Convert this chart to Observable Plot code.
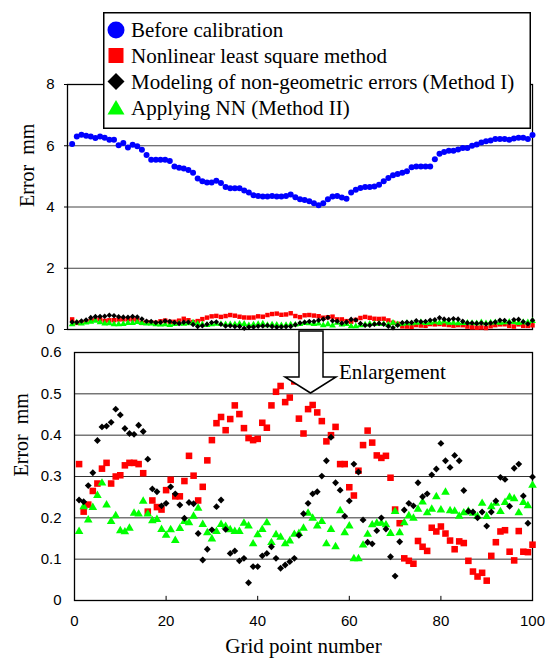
<!DOCTYPE html>
<html><head><meta charset="utf-8">
<script src="https://cdn.jsdelivr.net/npm/d3@7"></script>
<script src="https://cdn.jsdelivr.net/npm/@observablehq/plot@0.6"></script>
<style>
body{margin:0;background:#fff;}
#wrap{position:relative;width:545px;height:658px;overflow:hidden;background:#fff;}
#topChart,#bottomChart,#overlay,#legend{position:absolute;left:0;}
#topChart{top:0;}
#bottomChart{top:335px;}
#overlay{top:0;pointer-events:none;}
#legend{left:103px;top:12px;}
svg{overflow:visible;}
</style></head>
<body><div id="wrap"><div id="topChart"></div><div id="bottomChart"></div><svg id="overlay" width="545" height="658"></svg><svg id="legend" width="428" height="117"></svg></div>
<script>
const gridPoints = d3.range(1, 101);
const seriesNames = ["Before calibration", "Nonlinear least square method", "Modeling of non-geometric errors (Method I)", "Applying NN (Method II)"];
const beforeCal = [6.06,6.30,6.36,6.33,6.30,6.25,6.30,6.26,6.20,6.20,
6.02,6.09,5.94,6.03,5.98,5.87,5.70,5.54,5.54,5.54,
5.54,5.50,5.32,5.28,5.26,5.21,5.12,4.93,4.84,4.80,
4.80,4.86,4.78,4.65,4.61,4.61,4.61,4.54,4.47,4.38,
4.36,4.34,4.34,4.36,4.34,4.34,4.36,4.41,4.32,4.25,
4.23,4.19,4.12,4.06,4.12,4.25,4.34,4.36,4.31,4.27,
4.47,4.56,4.62,4.65,4.65,4.67,4.73,4.84,4.95,5.04,
5.08,5.12,5.17,5.30,5.32,5.32,5.32,5.32,5.56,5.74,
5.80,5.84,5.84,5.88,5.93,5.93,6.00,6.04,6.11,6.15,
6.17,6.22,6.22,6.22,6.20,6.24,6.26,6.26,6.22,6.35];
const nonlinearLS = [0.330,0.215,0.232,0.265,0.283,0.319,0.333,0.283,0.300,0.303,
0.327,0.333,0.333,0.330,0.308,0.215,0.242,0.226,0.220,0.267,
0.292,0.252,0.252,0.289,0.350,0.302,0.242,0.275,0.339,0.388,
0.429,0.444,0.412,0.439,0.472,0.451,0.417,0.393,0.388,0.391,
0.430,0.418,0.472,0.505,0.519,0.480,0.491,0.530,0.440,0.404,
0.463,0.473,0.455,0.434,0.385,0.400,0.420,0.330,0.330,0.274,
0.254,0.314,0.376,0.411,0.382,0.351,0.345,0.350,0.297,0.220,
0.187,0.102,0.096,0.089,0.144,0.130,0.120,0.176,0.167,0.179,
0.162,0.145,0.124,0.143,0.139,0.096,0.070,0.058,0.067,0.048,
0.108,0.141,0.167,0.170,0.118,0.097,0.168,0.118,0.117,0.135];
const methodI = [0.243,0.239,0.278,0.309,0.387,0.420,0.422,0.431,0.463,0.449,
0.416,0.404,0.402,0.424,0.409,0.342,0.270,0.263,0.229,0.235,
0.275,0.258,0.231,0.199,0.237,0.234,0.162,0.098,0.124,0.171,
0.227,0.243,0.172,0.114,0.120,0.096,0.102,0.043,0.082,0.082,
0.108,0.114,0.130,0.102,0.078,0.086,0.094,0.102,0.158,0.210,
0.235,0.258,0.263,0.301,0.338,0.395,0.285,0.267,0.204,0.241,
0.330,0.311,0.195,0.141,0.137,0.169,0.200,0.173,0.106,0.059,
0.142,0.219,0.235,0.229,0.285,0.251,0.258,0.304,0.318,0.380,
0.338,0.322,0.351,0.338,0.266,0.216,0.214,0.200,0.214,0.180,
0.214,0.241,0.298,0.293,0.228,0.320,0.330,0.253,0.187,0.299];
const methodII = [0.167,0.227,0.195,0.225,0.254,0.284,0.231,0.191,0.205,0.169,
0.166,0.175,0.211,0.209,0.240,0.209,0.193,0.196,0.172,0.158,
0.171,0.145,0.174,0.191,0.188,0.204,0.223,0.184,0.164,0.149,
0.167,0.184,0.179,0.171,0.167,0.167,0.187,0.180,0.137,0.159,
0.172,0.188,0.140,0.159,0.153,0.137,0.144,0.160,0.162,0.175,
0.211,0.199,0.180,0.191,0.137,0.172,0.130,0.217,0.164,0.180,
0.101,0.101,0.134,0.160,0.183,0.187,0.187,0.183,0.162,0.215,
0.164,0.188,0.205,0.199,0.221,0.238,0.212,0.221,0.251,0.219,
0.262,0.217,0.216,0.204,0.212,0.216,0.211,0.203,0.235,0.203,
0.227,0.235,0.215,0.237,0.250,0.246,0.212,0.237,0.229,0.279];
const topTicks = [0, 2, 4, 6, 8];
const topGrid = [2, 4, 6];
const bottomTicks = [0, 0.1, 0.2, 0.3, 0.4, 0.5, 0.6];
const bottomGrid = [0.1, 0.2, 0.3, 0.4, 0.5];
const xTicks = [0, 20, 40, 60, 80, 100];
const colors = ["#0000ff", "#ff0000", "#000000", "#00ff00"];
const yTitle = "Error\u00a0 mm";
const xTitle = "Grid point number";
const noteText = "Enlargement";

const rows = vals => gridPoints.map((g, i) => ({g, v: vals[i]}));
const blueRows = rows(beforeCal), redRows = rows(nonlinearLS), blackRows = rows(methodI), greenRows = rows(methodII);
const sans = "'Liberation Sans', Arial, sans-serif";
const serif = "'Liberation Serif', 'Times New Roman', serif";

const topPlot = Plot.plot({
  width: 545, height: 335,
  marginTop: 84, marginBottom: 6, marginLeft: 67, marginRight: 13,
  x: {domain: [0, 100], axis: null},
  y: {domain: [0, 8], axis: null},
  style: {background: "transparent", fontFamily: sans, fontSize: "15px", color: "#000"},
  marks: [
    Plot.ruleY(topGrid, {stroke: "#444", strokeWidth: 1}),
    Plot.frame({stroke: "#000", strokeWidth: 1.3}),
    Plot.axisY({ticks: topTicks, tickSize: 3, tickPadding: 10, label: null, fontSize: 15}),
    Plot.dot(blueRows, {x: "g", y: "v", r: 3, fill: colors[0], symbol: "circle"}),
    Plot.dot(redRows, {x: "g", y: "v", r: 2.5, fill: colors[1], symbol: "square"}),
    Plot.dot(greenRows, {x: "g", y: "v", r: 2.5, fill: colors[3], symbol: "triangle"}),
    Plot.dot(blackRows, {x: "g", y: "v", r: 2.5, fill: colors[2], symbol: "diamond2"}),
    Plot.text([yTitle], {frameAnchor: "left", rotate: -90, dx: -40, fontSize: 20, fontFamily: serif, fill: "#000"})
  ]
});
document.getElementById("topChart").append(topPlot);

const bottomPlot = Plot.plot({
  width: 545, height: 323,
  marginTop: 17, marginBottom: 58, marginLeft: 74, marginRight: 13,
  x: {domain: [0, 100], axis: null},
  y: {domain: [0, 0.6], axis: null},
  style: {background: "transparent", fontFamily: sans, fontSize: "15px", color: "#000"},
  marks: [
    Plot.ruleY(bottomGrid, {stroke: "#333", strokeWidth: 1}),
    Plot.frame({stroke: "#000", strokeWidth: 1.3}),
    Plot.ruleX(xTicks, {y1: 0, y2: 0.01, stroke: "#000"}),
    Plot.axisY({ticks: bottomTicks, tickSize: 0, tickPadding: 13, label: null, fontSize: 15, tickFormat: d => d === 0 ? "0" : d3.format(".1f")(d)}),
    Plot.axisX({ticks: xTicks, tickSize: 0, tickPadding: 15, label: null, fontSize: 15}),
    Plot.dot(redRows, {x: "g", y: "v", r: 3.7, fill: colors[1], symbol: "square"}),
    Plot.dot(greenRows, {x: "g", y: "v", r: 3.2, fill: colors[3], symbol: "triangle"}),
    Plot.dot(blackRows, {x: "g", y: "v", r: 3.1, fill: colors[2], symbol: "diamond2"}),
    Plot.text([xTitle], {frameAnchor: "bottom", lineAnchor: "middle", dy: 46, fontSize: 21, fontFamily: serif, fill: "#000"}),
    Plot.text([yTitle], {frameAnchor: "left", rotate: -90, dx: -53, fontSize: 20, fontFamily: serif, fill: "#000"})
  ]
});
document.getElementById("bottomChart").append(bottomPlot);

// Arrow annotation and note
const ov = d3.select("#overlay");
ov.append("path")
  .attr("d", "M299,331 L323,331 L323,377 L336,377 L310.5,393 L285,377 L299,377 Z")
  .attr("fill", "#fff").attr("stroke", "#000").attr("stroke-width", 1.5).attr("stroke-linejoin", "miter");
ov.append("text").attr("x", 339).attr("y", 379).attr("font-family", serif).attr("font-size", 21).text(noteText);

// Legend
const lg = d3.select("#legend");
lg.append("rect").attr("x", 0.75).attr("y", 0.75).attr("width", 426.5).attr("height", 115.5)
  .attr("fill", "#fff").attr("stroke", "#000").attr("stroke-width", 1.5);
const rowY = [18, 43.5, 69.5, 95.5];
seriesNames.forEach((name, i) => {
  const g = lg.append("g").attr("transform", `translate(13,${rowY[i]})`);
  if (i === 0) g.append("circle").attr("r", 8.5).attr("fill", colors[0]);
  if (i === 1) g.append("rect").attr("x", -7.5).attr("y", -7.5).attr("width", 15).attr("height", 15).attr("fill", colors[1]);
  if (i === 2) g.append("path").attr("d", "M0,-8.5 L8.5,0 L0,8.5 L-8.5,0 Z").attr("fill", colors[2]);
  if (i === 3) g.append("path").attr("d", "M0,-7.5 L8.5,7 L-8.5,7 Z").attr("fill", colors[3]);
  lg.append("text").attr("x", 28).attr("y", rowY[i]).attr("dy", "0.35em")
    .attr("font-family", serif).attr("font-size", 21).text(name);
});
</script>
</body></html>
